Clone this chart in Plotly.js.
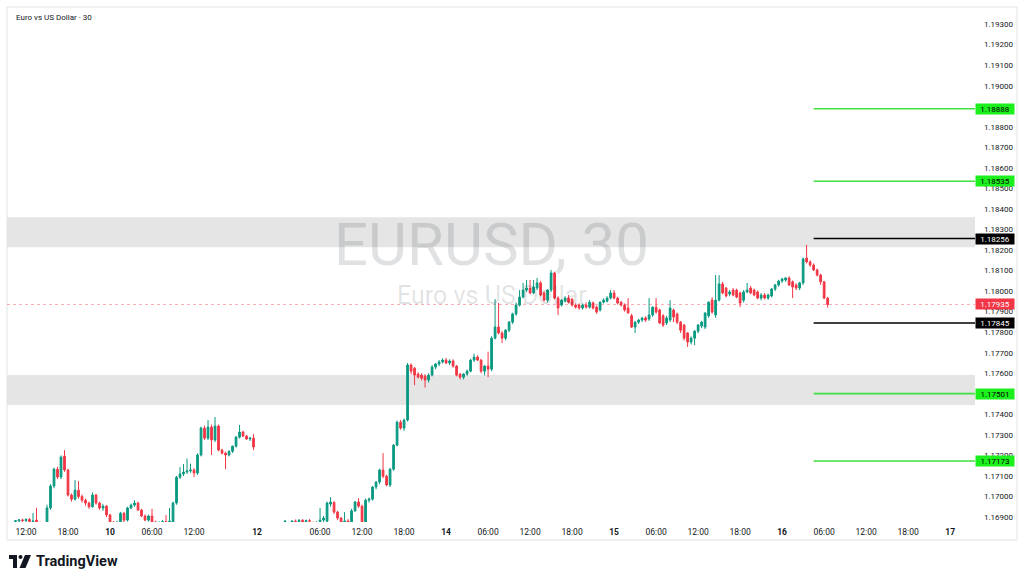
<!DOCTYPE html>
<html><head><meta charset="utf-8">
<script src="https://cdn.plot.ly/plotly-3.0.1.min.js"></script>
<style>html,body{margin:0;padding:0;background:#fff;}#chart{width:1024px;height:582px;}</style>
</head><body><div id="chart"></div>
<script>
// EURUSD 30-minute candles: Fri 9th 10:30 .. Fri 10th 20:30, then Sun 12th 21:00 .. Thu 16th 06:30
const opens = [
1.16878,1.16882,1.16886,1.16883,1.16888,1.16878,1.16885,1.16870,1.16862,1.16866,
1.16944,1.17051,1.17133,1.17095,1.17197,1.17129,1.17007,1.16987,1.17031,1.17000,
1.16982,1.16968,1.16950,1.17007,1.16968,1.16944,1.16953,1.16910,1.16876,1.16860,
1.16870,1.16918,1.16885,1.16944,1.16958,1.16968,1.16934,1.16905,1.16885,1.16905,
1.16876,1.16865,1.16872,1.16878,1.16872,1.16870,1.16968,1.17094,1.17110,1.17119,
1.17124,1.17129,1.17114,1.17202,1.17333,1.17284,1.17338,1.17275,1.17343,1.17226,
1.17211,1.17202,1.17220,1.17245,1.17289,1.17314,1.17294,1.17280,1.17284,
1.16855,1.16860,1.16852,1.16858,1.16865,1.16856,1.16862,1.16868,1.16878,1.16870,
1.16872,1.16880,1.16878,1.16884,1.16876,1.16882,1.16870,1.16860,1.16878,1.16885,
1.16880,1.16963,1.16970,1.16924,1.16895,1.16875,1.16880,1.16870,1.16930,1.16973,
1.16953,1.16870,1.16982,1.16987,1.17046,1.17070,1.17129,1.17099,1.17056,1.17133,
1.17250,1.17362,1.17333,1.17372,1.17640,1.17625,1.17596,1.17591,1.17586,1.17567,
1.17591,1.17630,1.17645,1.17655,1.17664,1.17650,1.17660,1.17635,1.17596,1.17581,
1.17596,1.17610,1.17664,1.17679,1.17664,1.17610,1.17635,1.17620,1.17771,1.17825,
1.17796,1.17771,1.17810,1.17849,1.17889,1.17932,1.17971,1.18005,1.18015,1.17991,
1.18015,1.18040,1.17991,1.17956,1.18005,1.18088,1.17966,1.17932,1.17951,1.17966,
1.17961,1.17932,1.17932,1.17918,1.17932,1.17922,1.17942,1.17922,1.17908,1.17946,
1.17951,1.17966,1.17991,1.17966,1.17946,1.17932,1.17918,1.17880,1.17825,1.17849,
1.17859,1.17869,1.17864,1.17884,1.17922,1.17908,1.17880,1.17845,1.17859,1.17908,
1.17889,1.17849,1.17835,1.17796,1.17752,1.17771,1.17805,1.17830,1.17825,1.17880,
1.17956,1.17884,1.17956,1.18035,1.18015,1.17986,1.18005,1.18005,1.17991,1.17956,
1.17996,1.18015,1.18005,1.17996,1.17966,1.17981,1.17966,1.17976,1.18010,1.18030,
1.18049,1.18054,1.18064,1.18045,1.18030,1.18015,1.18040,1.18161,1.18142,1.18127,
1.18103,1.18078,1.18045,1.17966
];
const highs = [
1.16886,1.16890,1.16892,1.16894,1.16895,1.16920,1.16945,1.16878,1.16875,1.16960,
1.17060,1.17140,1.17145,1.17200,1.17226,1.17135,1.17015,1.17080,1.17075,1.17010,
1.16990,1.16975,1.17020,1.17012,1.16975,1.16962,1.16958,1.16915,1.16880,1.16882,
1.16925,1.16925,1.16950,1.16965,1.16982,1.16975,1.16940,1.16912,1.16912,1.16940,
1.16882,1.16880,1.16885,1.16910,1.16944,1.16975,1.17100,1.17143,1.17158,1.17185,
1.17160,1.17138,1.17210,1.17340,1.17345,1.17372,1.17350,1.17387,1.17350,1.17232,
1.17218,1.17225,1.17248,1.17295,1.17348,1.17320,1.17300,1.17290,1.17304,
1.16870,1.16868,1.16866,1.16872,1.16872,1.16868,1.16874,1.16876,1.16884,1.16876,
1.16885,1.16888,1.16890,1.16890,1.16888,1.16890,1.16878,1.16880,1.16944,1.16905,
1.16975,1.16997,1.16978,1.16930,1.16900,1.16924,1.16890,1.16940,1.16978,1.16992,
1.16960,1.16990,1.16995,1.17050,1.17075,1.17135,1.17211,1.17105,1.17138,1.17255,
1.17370,1.17372,1.17380,1.17650,1.17648,1.17630,1.17605,1.17600,1.17596,1.17600,
1.17640,1.17650,1.17665,1.17672,1.17675,1.17668,1.17668,1.17640,1.17600,1.17600,
1.17618,1.17670,1.17695,1.17688,1.17670,1.17640,1.17705,1.17780,1.17961,1.17942,
1.17805,1.17815,1.17855,1.17895,1.17945,1.18005,1.18040,1.18054,1.18054,1.18054,
1.18064,1.18050,1.17998,1.18010,1.18103,1.18095,1.17975,1.17960,1.17975,1.17981,
1.17966,1.17940,1.17940,1.17940,1.17945,1.17956,1.17950,1.17930,1.17950,1.17965,
1.17975,1.18005,1.18005,1.17972,1.17952,1.17940,1.17966,1.17890,1.17855,1.17865,
1.17875,1.17878,1.17966,1.17925,1.17966,1.17915,1.17888,1.17880,1.17956,1.17915,
1.17895,1.17855,1.17840,1.17800,1.17780,1.17810,1.17840,1.17855,1.17895,1.17950,
1.17970,1.18078,1.18078,1.18045,1.18020,1.18005,1.18015,1.18012,1.17998,1.18005,
1.18040,1.18025,1.18012,1.18003,1.17990,1.17990,1.17988,1.18015,1.18035,1.18055,
1.18065,1.18068,1.18072,1.18052,1.18038,1.18045,1.18165,1.18225,1.18150,1.18135,
1.18110,1.18085,1.18050,1.17972
];
const lows = [
1.16868,1.16872,1.16876,1.16872,1.16865,1.16860,1.16850,1.16840,1.16840,1.16850,
1.16935,1.17040,1.17085,1.17085,1.17120,1.17000,1.16975,1.16980,1.16990,1.16970,
1.16955,1.16940,1.16945,1.16960,1.16935,1.16930,1.16900,1.16860,1.16840,1.16845,
1.16850,1.16875,1.16878,1.16938,1.16950,1.16930,1.16900,1.16880,1.16878,1.16860,
1.16845,1.16850,1.16858,1.16860,1.16855,1.16860,1.16960,1.17085,1.17100,1.17110,
1.17115,1.17094,1.17105,1.17195,1.17275,1.17275,1.17202,1.17265,1.17220,1.17205,
1.17133,1.17195,1.17212,1.17238,1.17282,1.17290,1.17275,1.17270,1.17226,
1.16840,1.16845,1.16840,1.16848,1.16850,1.16845,1.16850,1.16855,1.16860,1.16855,
1.16860,1.16865,1.16866,1.16870,1.16862,1.16868,1.16850,1.16845,1.16860,1.16870,
1.16870,1.16950,1.16915,1.16885,1.16860,1.16855,1.16850,1.16860,1.16925,1.16945,
1.16860,1.16860,1.16970,1.16980,1.17035,1.17060,1.17090,1.17050,1.17046,1.17125,
1.17245,1.17325,1.17320,1.17365,1.17595,1.17542,1.17575,1.17565,1.17530,1.17555,
1.17585,1.17620,1.17635,1.17648,1.17645,1.17640,1.17628,1.17585,1.17570,1.17570,
1.17588,1.17605,1.17655,1.17660,1.17600,1.17590,1.17581,1.17610,1.17765,1.17790,
1.17747,1.17760,1.17800,1.17840,1.17880,1.17925,1.17965,1.17995,1.17985,1.17985,
1.18005,1.17975,1.17950,1.17945,1.17995,1.17960,1.17884,1.17925,1.17945,1.17940,
1.17925,1.17915,1.17910,1.17910,1.17915,1.17915,1.17910,1.17890,1.17900,1.17940,
1.17945,1.17960,1.17960,1.17935,1.17925,1.17900,1.17890,1.17820,1.17796,1.17840,
1.17850,1.17850,1.17855,1.17875,1.17890,1.17840,1.17825,1.17835,1.17850,1.17849,
1.17840,1.17796,1.17760,1.17728,1.17740,1.17737,1.17795,1.17820,1.17815,1.17870,
1.17890,1.17870,1.17950,1.17985,1.17970,1.17975,1.17975,1.17965,1.17922,1.17945,
1.17990,1.17985,1.17975,1.17960,1.17955,1.17960,1.17958,1.17970,1.18000,1.18022,
1.18040,1.18045,1.18025,1.17966,1.18005,1.18005,1.18030,1.18135,1.18118,1.18098,
1.18072,1.18030,1.17960,1.17920
];
const closes = [
1.16882,1.16886,1.16883,1.16888,1.16878,1.16880,1.16870,1.16862,1.16866,1.16944,
1.17051,1.17133,1.17095,1.17192,1.17129,1.17007,1.16987,1.17031,1.17000,1.16982,
1.16968,1.16950,1.17007,1.16968,1.16944,1.16953,1.16910,1.16876,1.16860,1.16870,
1.16918,1.16885,1.16944,1.16958,1.16968,1.16934,1.16905,1.16885,1.16905,1.16876,
1.16865,1.16872,1.16878,1.16872,1.16880,1.16968,1.17094,1.17110,1.17119,1.17124,
1.17129,1.17114,1.17202,1.17333,1.17284,1.17338,1.17275,1.17343,1.17226,1.17211,
1.17202,1.17220,1.17245,1.17289,1.17314,1.17294,1.17280,1.17284,1.17241,
1.16860,1.16852,1.16858,1.16865,1.16856,1.16862,1.16868,1.16870,1.16880,1.16865,
1.16880,1.16878,1.16884,1.16876,1.16882,1.16880,1.16860,1.16870,1.16885,1.16895,
1.16968,1.16973,1.16924,1.16895,1.16875,1.16880,1.16870,1.16930,1.16973,1.16953,
1.16870,1.16982,1.16987,1.17046,1.17070,1.17129,1.17099,1.17056,1.17133,1.17250,
1.17362,1.17333,1.17372,1.17640,1.17610,1.17591,1.17581,1.17576,1.17567,1.17591,
1.17630,1.17645,1.17655,1.17664,1.17650,1.17660,1.17635,1.17591,1.17581,1.17596,
1.17610,1.17664,1.17679,1.17664,1.17610,1.17635,1.17620,1.17771,1.17825,1.17796,
1.17771,1.17810,1.17849,1.17889,1.17932,1.17971,1.18005,1.18015,1.17991,1.18020,
1.18040,1.17981,1.17956,1.18005,1.18088,1.17966,1.17918,1.17956,1.17966,1.17946,
1.17932,1.17922,1.17918,1.17932,1.17922,1.17946,1.17918,1.17898,1.17946,1.17956,
1.17966,1.17991,1.17966,1.17942,1.17932,1.17908,1.17894,1.17825,1.17849,1.17859,
1.17869,1.17859,1.17884,1.17922,1.17898,1.17845,1.17835,1.17869,1.17918,1.17874,
1.17849,1.17810,1.17771,1.17752,1.17771,1.17805,1.17835,1.17849,1.17894,1.17946,
1.17898,1.17956,1.18035,1.17991,1.17976,1.17996,1.17981,1.17971,1.17942,1.17996,
1.18005,1.17991,1.17981,1.17966,1.17981,1.17966,1.17981,1.18010,1.18030,1.18049,
1.18059,1.18064,1.18030,1.18020,1.18015,1.18040,1.18156,1.18142,1.18127,1.18103,
1.18078,1.18045,1.17966,1.17935
];
// time axis: bar index of each labelled time and its label
const tickIndex = [3,15,27,39,51,69,87,99,111,123,135,147,159,171,183,195,207,219,231,243,255,267];
const tickLabels = ['12:00','18:00','<b>10</b>','06:00','12:00','<b>12</b>','06:00','12:00','18:00','<b>14</b>','06:00','12:00','18:00','<b>15</b>','06:00','12:00','18:00','<b>16</b>','06:00','12:00','18:00','<b>17</b>'];
// price axis labels that remain visible (1.18900 and 1.17500 sit under level boxes)
const priceTicks = [1.193,1.192,1.191,1.190,1.188,1.187,1.186,1.185,1.184,1.183,1.182,1.181,1.180,1.179,1.178,1.177,1.176,1.174,1.173,1.172,1.171,1.170,1.169];
// drawn horizontal levels
const greenLevels = [1.18888, 1.18535, 1.17501, 1.17173];
const blackLevels = [1.18256, 1.17845];
const zoneBounds = [[1.18214, 1.18360], [1.17445, 1.17591]];
const lastPrice = 1.17935;
const levelStartIndex = 228;

const barIndex = opens.map((_, k) => k);
const xMin = -2.43, xMax = 274.1;
const yMin = 1.168758, yMax = 1.193834;

// helpers for decorative items placed in paper space (plot area 968x515 px starting at 7,7)
const px = v => (v - 7) / 968;
const py = v => (522 - v) / 515;

const shapes = [];
shapes.push({type:'rect', xref:'paper', yref:'paper', x0:px(7), x1:px(1017), y0:py(540), y1:py(7),
  line:{color:'#e0e3eb', width:1}, fillcolor:'rgba(0,0,0,0)', layer:'below'});
zoneBounds.forEach(z => shapes.push({type:'rect', xref:'paper', yref:'y', x0:0, x1:1, y0:z[0], y1:z[1],
  fillcolor:'#e5e5e5', line:{width:0}, layer:'below'}));
shapes.push({type:'line', xref:'paper', yref:'y', x0:0, x1:1, y0:lastPrice, y1:lastPrice,
  line:{color:'rgba(242,54,69,0.4)', width:1, dash:'dot'}, layer:'below'});
greenLevels.forEach(v => shapes.push({type:'line', xref:'x', yref:'y', x0:levelStartIndex, x1:xMax, y0:v, y1:v,
  line:{color:'#3fe03f', width:1.6}}));
blackLevels.forEach(v => shapes.push({type:'line', xref:'x', yref:'y', x0:levelStartIndex, x1:xMax, y0:v, y1:v,
  line:{color:'#000000', width:1.6}}));
// TradingView logo mark
shapes.push({type:'path', xref:'paper', yref:'paper',
  path:`M${px(9)},${py(555)} L${px(17)},${py(555)} L${px(17)},${py(568)} L${px(13)},${py(568)} L${px(13)},${py(559)} L${px(9)},${py(559)} Z`,
  fillcolor:'#131722', line:{width:0}});
shapes.push({type:'circle', xref:'paper', yref:'paper', x0:px(18.5), x1:px(22.5), y0:py(559), y1:py(555),
  fillcolor:'#131722', line:{width:0}});
shapes.push({type:'path', xref:'paper', yref:'paper',
  path:`M${px(25)},${py(555)} L${px(31)},${py(555)} L${px(25.5)},${py(568)} L${px(19.5)},${py(568)} Z`,
  fillcolor:'#131722', line:{width:0}});

const boxX = px(995.5);
const annotations = [];
annotations.push({xref:'paper', yref:'paper', x:px(14), y:py(18), xanchor:'left', yanchor:'middle',
  text:'Euro vs US Dollar · 30', showarrow:false, font:{size:8, color:'#131722'}});
annotations.push({xref:'paper', yref:'paper', x:px(492), y:py(244), xanchor:'center', yanchor:'middle',
  text:'EURUSD, 30', showarrow:false, font:{size:60, color:'rgba(19,23,34,0.13)'}});
annotations.push({xref:'paper', yref:'paper', x:px(492), y:py(295), xanchor:'center', yanchor:'middle',
  text:'Euro vs US Dollar', showarrow:false, font:{size:25, color:'rgba(19,23,34,0.13)'}});
const priceBox = (v, bg, fg) => ({xref:'paper', yref:'y', x:boxX, y:v, xanchor:'center', yanchor:'middle',
  text:v.toFixed(5), showarrow:false, bgcolor:bg, width:36, height:8, borderpad:1,
  font:{size:8, color:fg}});
greenLevels.forEach(v => annotations.push(priceBox(v, '#1cf01c', '#000000')));
blackLevels.forEach(v => annotations.push(priceBox(v, '#000000', '#ffffff')));
annotations.push(priceBox(lastPrice, '#f23645', '#ffffff'));
annotations.push({xref:'paper', yref:'paper', x:px(34), y:py(561), xanchor:'left', yanchor:'middle',
  text:'<b>TradingView</b>', showarrow:false, font:{size:14.5, color:'#131722'}});

const trace = {
  type:'candlestick', x:barIndex, open:opens, high:highs, low:lows, close:closes,
  increasing:{line:{color:'#089981', width:1}, fillcolor:'#089981'},
  decreasing:{line:{color:'#f23645', width:1}, fillcolor:'#f23645'},
  whiskerwidth:0, hoverinfo:'skip'
};

const layout = {
  width:1024, height:582,
  margin:{l:7, r:49, t:7, b:60, pad:0},
  paper_bgcolor:'#ffffff', plot_bgcolor:'#ffffff',
  showlegend:false,
  font:{family:'Roboto, "Liberation Sans", sans-serif', color:'#131722', size:8},
  xaxis:{range:[xMin, xMax], tickmode:'array', tickvals:tickIndex, ticktext:tickLabels,
    showgrid:false, zeroline:false, showline:false, ticks:'', ticklabelstandoff:3,
    rangeslider:{visible:false}, fixedrange:true, tickfont:{size:8.5, color:'#131722'}},
  yaxis:{side:'right', range:[yMin, yMax], tickmode:'array', tickvals:priceTicks,
    ticktext:priceTicks.map(v => v.toFixed(5)),
    showgrid:false, zeroline:false, showline:false, ticks:'', ticklabelstandoff:8, fixedrange:true,
    tickfont:{size:8, color:'#131722'}},
  shapes:shapes, annotations:annotations
};

Plotly.newPlot('chart', [trace], layout, {staticPlot:true, displayModeBar:false});
</script></body></html>
